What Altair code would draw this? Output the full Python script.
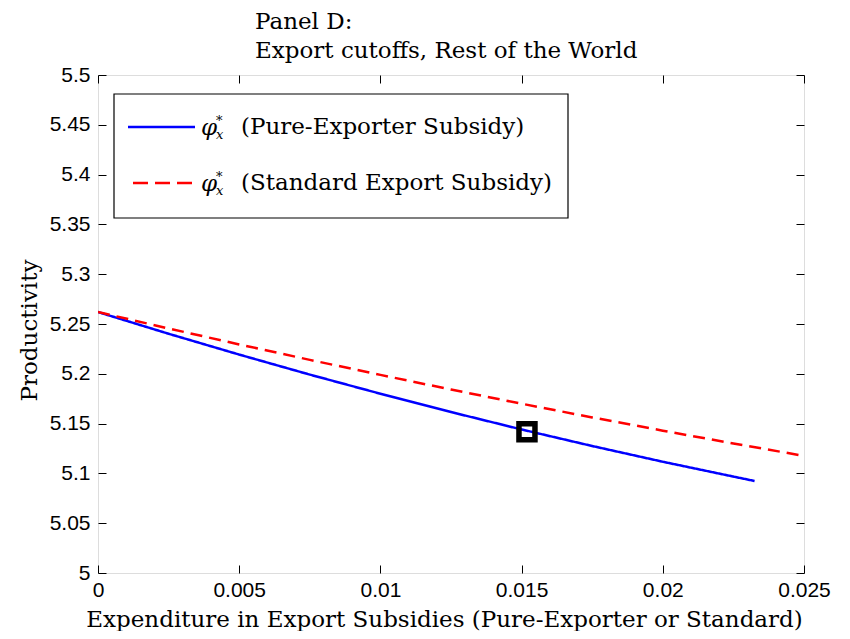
import altair as alt
import pandas as pd

# ---- data ----
x_grid = [0, 0.0025, 0.005, 0.0075, 0.01, 0.0125, 0.015, 0.0175, 0.02, 0.0225]
pure_x = x_grid + [0.02325]
pure_y = [5.262, 5.2402, 5.2193, 5.1992, 5.1800, 5.1616, 5.1441, 5.1275, 5.1117, 5.0968, 5.0924]
std_x = x_grid + [0.025]
std_y = [5.262, 5.2455, 5.2295, 5.2140, 5.1989, 5.1842, 5.1700, 5.1562, 5.1429, 5.1300, 5.1176]
marker_x = [0.01519]
marker_y = [5.1419]
series_names = ["pure", "standard"]
series_colors = ["#0000FF", "#FF0000"]
legend_labels = ["(Pure-Exporter Subsidy)", "(Standard Export Subsidy)"]
x_ticks = [0, 0.005, 0.01, 0.015, 0.02, 0.025]
y_ticks = [5.0, 5.05, 5.1, 5.15, 5.2, 5.25, 5.3, 5.35, 5.4, 5.45, 5.5]
title_lines = ["Panel D:", "Export cutoffs, Rest of the World"]
x_title = "Expenditure in Export Subsidies (Pure-Exporter or Standard)"
y_title = "Productivity"

lines_df = pd.DataFrame({
    "x": pure_x + std_x,
    "y": pure_y + std_y,
    "s": [series_names[0]] * len(pure_x) + [series_names[1]] * len(std_x),
})
marker_df = pd.DataFrame({"x": marker_x, "y": marker_y})

SERIF = "DejaVu Serif"
SANS = "Liberation Sans"
TXT = 23
XS = alt.Scale(domain=[0, 0.025], nice=False, zero=False)
YS = alt.Scale(domain=[5.0, 5.5], nice=False, zero=False)

lines = alt.Chart(lines_df).mark_line(strokeWidth=2.5, clip=True).encode(
    x=alt.X("x:Q", scale=XS, axis=alt.Axis(
        orient="bottom", values=x_ticks, format="~g", offset=-8, tickSize=8,
        domain=False, grid=False, labelPadding=6, labelFont=SANS, labelFontSize=21,
        labelColor="#000", tickColor="#000", labelFlush=False,
        title=x_title, titleFont=SERIF, titleFontSize=TXT, titleFontWeight="normal",
        titleColor="#000", titleBaseline="middle", titleY=54, titleX=346)),
    y=alt.Y("y:Q", scale=YS, axis=alt.Axis(
        orient="left", values=y_ticks, format="~g", offset=-8, tickSize=8,
        domain=False, grid=False, labelPadding=8, labelFont=SANS, labelFontSize=21,
        labelColor="#000", tickColor="#000", labelFlush=False,
        title=y_title, titleFont=SERIF, titleFontSize=TXT, titleFontWeight="normal",
        titleColor="#000", titleAngle=270, titleBaseline="middle", titleAlign="center",
        titleX=-77, titleY=255)),
    color=alt.Color("s:N", scale=alt.Scale(domain=series_names, range=series_colors), legend=None),
    strokeDash=alt.StrokeDash("s:N", scale=alt.Scale(domain=series_names, range=[[1, 0], [12, 7]]), legend=None),
)

marker = alt.Chart(marker_df).mark_point(shape="square", size=256, strokeWidth=5.5,
                                          filled=False, color="#000", opacity=1).encode(
    x=alt.X("x:Q", scale=XS, axis=alt.Axis(
        orient="top", values=x_ticks, offset=-8, tickSize=8, labels=False,
        domain=False, grid=False, tickColor="#000", title=None)),
    y=alt.Y("y:Q", scale=YS, axis=alt.Axis(
        orient="right", values=y_ticks, offset=-8, tickSize=8, labels=False,
        domain=False, grid=False, tickColor="#000", title=None)),
)

# ---- title (two left-aligned lines above the plot) ----
title_layers = []
for i, line in enumerate(title_lines):
    title_layers.append(
        alt.Chart(pd.DataFrame({"t": [line]})).mark_text(
            font=SERIF, fontSize=TXT, align="left", baseline="alphabetic",
            color="#000").encode(x=alt.value(157), y=alt.value(-46 + i * 29), text="t:N"))

# ---- manual legend (box, samples, labels) ----
one = pd.DataFrame({"k": [0]})
box = alt.Chart(one).mark_rect(fill="white", stroke="#000", strokeWidth=1.2).encode(
    x=alt.value(16), x2=alt.value(470), y=alt.value(19), y2=alt.value(143))

legend_layers = [box]
for i, (name, col, lab) in enumerate(zip(series_names, series_colors, legend_labels)):
    yy = 52 + i * 56
    dash = [1, 0] if i == 0 else [15, 7]
    x0 = 30 if i == 0 else 35
    legend_layers.append(
        alt.Chart(one).mark_rule(color=col, strokeWidth=2.5, strokeDash=dash).encode(
            x=alt.value(x0), x2=alt.value(97), y=alt.value(yy)))
    legend_layers.append(
        alt.Chart(pd.DataFrame({"t": ["φ"]})).mark_text(
            font=SERIF, fontStyle="italic", fontSize=23, align="left", baseline="middle",
            color="#000").encode(x=alt.value(103), y=alt.value(yy + 1), text="t:N"))
    legend_layers.append(
        alt.Chart(pd.DataFrame({"t": ["x"]})).mark_text(
            font=SERIF, fontStyle="italic", fontSize=13, align="left", baseline="middle",
            color="#000").encode(x=alt.value(118), y=alt.value(yy + 8), text="t:N"))
    legend_layers.append(
        alt.Chart(pd.DataFrame({"t": ["*"]})).mark_text(
            font=SERIF, fontSize=13, align="left", baseline="middle",
            color="#000").encode(x=alt.value(118), y=alt.value(yy - 6), text="t:N"))
    legend_layers.append(
        alt.Chart(pd.DataFrame({"t": [lab]})).mark_text(
            font=SERIF, fontSize=TXT, align="left", baseline="middle",
            color="#000").encode(x=alt.value(143), y=alt.value(yy), text="t:N"))

chart = alt.layer(lines, marker, *title_layers, *legend_layers).resolve_axis(
    x="independent", y="independent"
).properties(
    width=706, height=498,
    autosize="none",
    padding={"left": 90, "top": 67, "right": 38, "bottom": 58},
).configure_view(stroke="#000", strokeWidth=1.2).configure(background="white")

chart.save("out.html", embed_options={"renderer": "svg", "actions": False})
